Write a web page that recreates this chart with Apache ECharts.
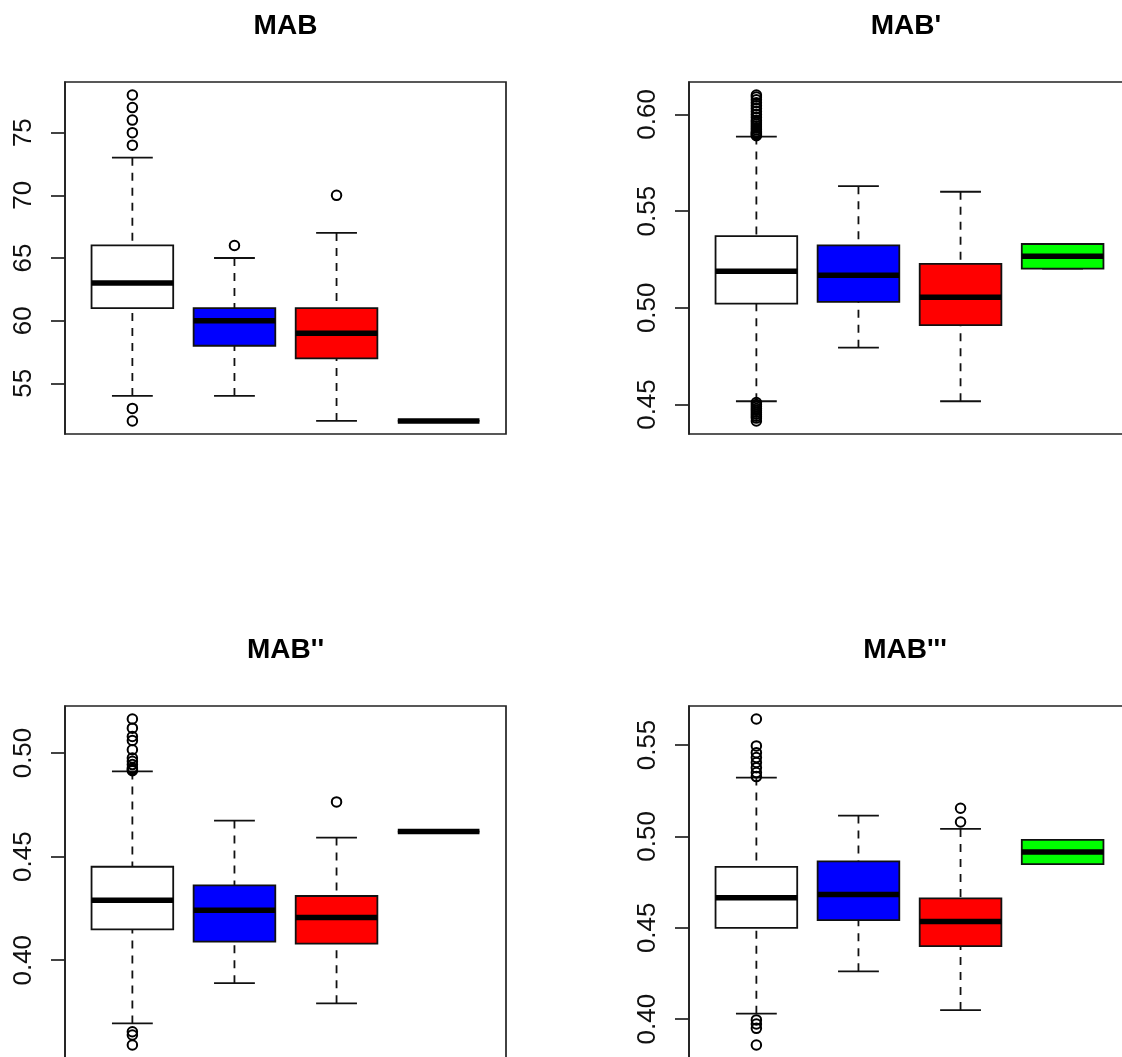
<!DOCTYPE html>
<html>
<head>
<meta charset="utf-8">
<script src="https://cdn.jsdelivr.net/npm/echarts@6/dist/echarts.min.js"></script>
<style>
html,body{margin:0;padding:0;background:#fff;}
#chart{width:1122px;height:1057px;}
</style>
</head>
<body>
<div id="chart"></div>
<script>
// ---------- data ----------
const groupPos = [1, 2, 3, 4];
const groupFill = ['#FFFFFF', '#0000FF', '#FF0000', '#00FF00'];
const panelTitles = ['MAB', "MAB'", "MAB''", "MAB'''"];

// each row: [lower whisker, Q1, median, Q3, upper whisker]
const mabStats = [
  [54, 61, 63, 66, 73],
  [54, 58, 60, 61, 65],
  [52, 57, 59, 61, 67],
  [52, 52, 52, 52, 52]
];
const mabOutliers = [[78, 77, 76, 75, 74, 53, 52], [66], [70], []];
const mabTicks = [55, 60, 65, 70, 75];

const mab1Stats = [
  [0.4517, 0.5022, 0.5189, 0.5371, 0.5885],
  [0.4794, 0.5031, 0.5168, 0.5323, 0.5629],
  [0.4517, 0.4910, 0.5055, 0.5227, 0.5600],
  [0.5203, 0.5203, 0.5266, 0.5330, 0.5330]
];
const mab1Outliers = [
  [0.6100, 0.6090, 0.6075, 0.6060, 0.6045, 0.6030, 0.6015, 0.6000, 0.5985, 0.5970,
   0.5960, 0.5950, 0.5940, 0.5930, 0.5920, 0.5910, 0.5905, 0.5900, 0.5895, 0.5890,
   0.4510, 0.4500, 0.4490, 0.4480, 0.4470, 0.4460, 0.4450, 0.4440, 0.4430, 0.4415],
  [], [], []
];
const mab1Ticks = [0.45, 0.50, 0.55, 0.60];

const mab2Stats = [
  [0.3695, 0.4149, 0.4290, 0.4451, 0.4911],
  [0.3889, 0.4090, 0.4241, 0.4361, 0.4674],
  [0.3792, 0.4080, 0.4206, 0.4310, 0.4592],
  [0.4621, 0.4621, 0.4621, 0.4621, 0.4621]
];
const mab2Outliers = [
  [0.5164, 0.5120, 0.5080, 0.5061, 0.5016, 0.4976, 0.4960, 0.4944, 0.4928, 0.4920, 0.4915,
   0.3655, 0.3639, 0.3591],
  [], [0.4764], []
];
const mab2Ticks = [0.40, 0.45, 0.50];

const mab3Stats = [
  [0.4030, 0.4500, 0.4664, 0.4833, 0.5322],
  [0.4262, 0.4542, 0.4682, 0.4863, 0.5114],
  [0.4050, 0.4400, 0.4535, 0.4661, 0.5041],
  [0.4848, 0.4848, 0.4914, 0.4981, 0.4981]
];
const mab3Outliers = [
  [0.5642, 0.5495, 0.5458, 0.5431, 0.5404, 0.5376, 0.5349, 0.5327,
   0.3996, 0.3974, 0.3950, 0.3859],
  [], [0.5154, 0.5079], []
];
const mab3Ticks = [0.40, 0.45, 0.50, 0.55];

// ---------- chart ----------
const FONT = '"Liberation Sans", Arial, Helvetica, sans-serif';
const INK = '#111';

const panels = [
  { title: panelTitles[0], stats: mabStats, outliers: mabOutliers, ticks: mabTicks, dec: 0 },
  { title: panelTitles[1], stats: mab1Stats, outliers: mab1Outliers, ticks: mab1Ticks, dec: 2 },
  { title: panelTitles[2], stats: mab2Stats, outliers: mab2Outliers, ticks: mab2Ticks, dec: 2 },
  { title: panelTitles[3], stats: mab3Stats, outliers: mab3Outliers, ticks: mab3Ticks, dec: 2 }
];

const gridRects = [
  { left: 65, top: 82 },
  { left: 689, top: 82 },
  { left: 65, top: 706 },
  { left: 689, top: 706 }
];
const titleCenters = [285.5, 906, 285.5, 905];
const titleTops = [12, 12, 636, 636];

function renderBox(params, api) {
  const x = api.value(0);
  const lo = api.value(1), q1 = api.value(2), md = api.value(3), q3 = api.value(4), hi = api.value(5);
  const fill = groupFill[params.dataIndex];
  const pLo = api.coord([x, lo]), pQ1 = api.coord([x, q1]), pMd = api.coord([x, md]);
  const pQ3 = api.coord([x, q3]), pHi = api.coord([x, hi]);
  const xl = api.coord([x - 0.4, md])[0], xr = api.coord([x + 0.4, md])[0];
  const cl = api.coord([x - 0.2, md])[0], cr = api.coord([x + 0.2, md])[0];
  const dash = { stroke: INK, lineWidth: 1.8, lineDash: [8, 7], fill: null };
  const solid = { stroke: INK, lineWidth: 1.8, fill: null };
  return {
    type: 'group',
    children: [
      { type: 'line', shape: { x1: pHi[0], y1: pHi[1], x2: pQ3[0], y2: pQ3[1] }, style: dash },
      { type: 'line', shape: { x1: pLo[0], y1: pLo[1], x2: pQ1[0], y2: pQ1[1] }, style: dash },
      { type: 'line', shape: { x1: cl, y1: pHi[1], x2: cr, y2: pHi[1] }, style: solid },
      { type: 'line', shape: { x1: cl, y1: pLo[1], x2: cr, y2: pLo[1] }, style: solid },
      { type: 'rect', shape: { x: xl, y: pQ3[1], width: xr - xl, height: pQ1[1] - pQ3[1] },
        style: { fill: fill, stroke: INK, lineWidth: 1.8 } },
      { type: 'line', shape: { x1: xl, y1: pMd[1], x2: xr, y2: pMd[1] },
        style: { stroke: '#000', lineWidth: 5.5, lineCap: 'butt', fill: null } }
    ]
  };
}

const option = {
  animation: false,
  backgroundColor: '#fff',
  title: [],
  grid: [],
  xAxis: [],
  yAxis: [],
  series: []
};

panels.forEach((p, i) => {
  const all = [];
  p.stats.forEach(s => all.push(...s));
  p.outliers.forEach(o => all.push(...o));
  const dMin = Math.min(...all), dMax = Math.max(...all);
  const ext = (dMax - dMin) * 0.04;

  option.title.push({
    text: p.title,
    left: titleCenters[i],
    top: titleTops[i],
    padding: 0,
    textAlign: 'center',
    textStyle: { fontFamily: FONT, fontSize: 28, fontWeight: 'bold', color: '#000' }
  });
  option.grid.push({
    left: gridRects[i].left, top: gridRects[i].top, width: 441, height: 352,
    show: true, borderColor: '#222', borderWidth: 1.7, backgroundColor: 'transparent',
    containLabel: false, outerBoundsMode: 'none'
  });
  option.xAxis.push({
    type: 'value', gridIndex: i, min: 0.34, max: 4.66, show: false
  });
  option.yAxis.push({
    type: 'value', gridIndex: i, min: dMin - ext, max: dMax + ext,
    splitLine: { show: false },
    axisLine: { show: true, lineStyle: { color: '#222', width: 1.7 } },
    axisTick: { show: true, length: 14, lineStyle: { color: '#222', width: 1.7 }, customValues: p.ticks },
    axisLabel: {
      customValues: p.ticks, rotate: 90, margin: 28,
      fontFamily: FONT, fontSize: 26, color: '#111',
      formatter: v => Number(v).toFixed(p.dec)
    }
  });
  option.series.push({
    type: 'custom', xAxisIndex: i, yAxisIndex: i,
    renderItem: renderBox,
    dimensions: ['x', 'lo', 'q1', 'med', 'q3', 'hi'],
    encode: { x: 0, y: [1, 2, 3, 4, 5] },
    data: p.stats.map((s, k) => [groupPos[k]].concat(s)),
    clip: false, silent: true
  });
  const pts = [];
  p.outliers.forEach((o, k) => o.forEach(v => pts.push([groupPos[k], v])));
  option.series.push({
    type: 'scatter', xAxisIndex: i, yAxisIndex: i,
    symbol: 'circle', symbolSize: 9.5,
    itemStyle: { color: 'transparent', borderColor: '#000', borderWidth: 2, opacity: 1 },
    data: pts, silent: true, z: 5
  });
});

const chart = echarts.init(document.getElementById('chart'), null, { renderer: 'canvas' });
chart.setOption(option);
</script>
</body>
</html>
